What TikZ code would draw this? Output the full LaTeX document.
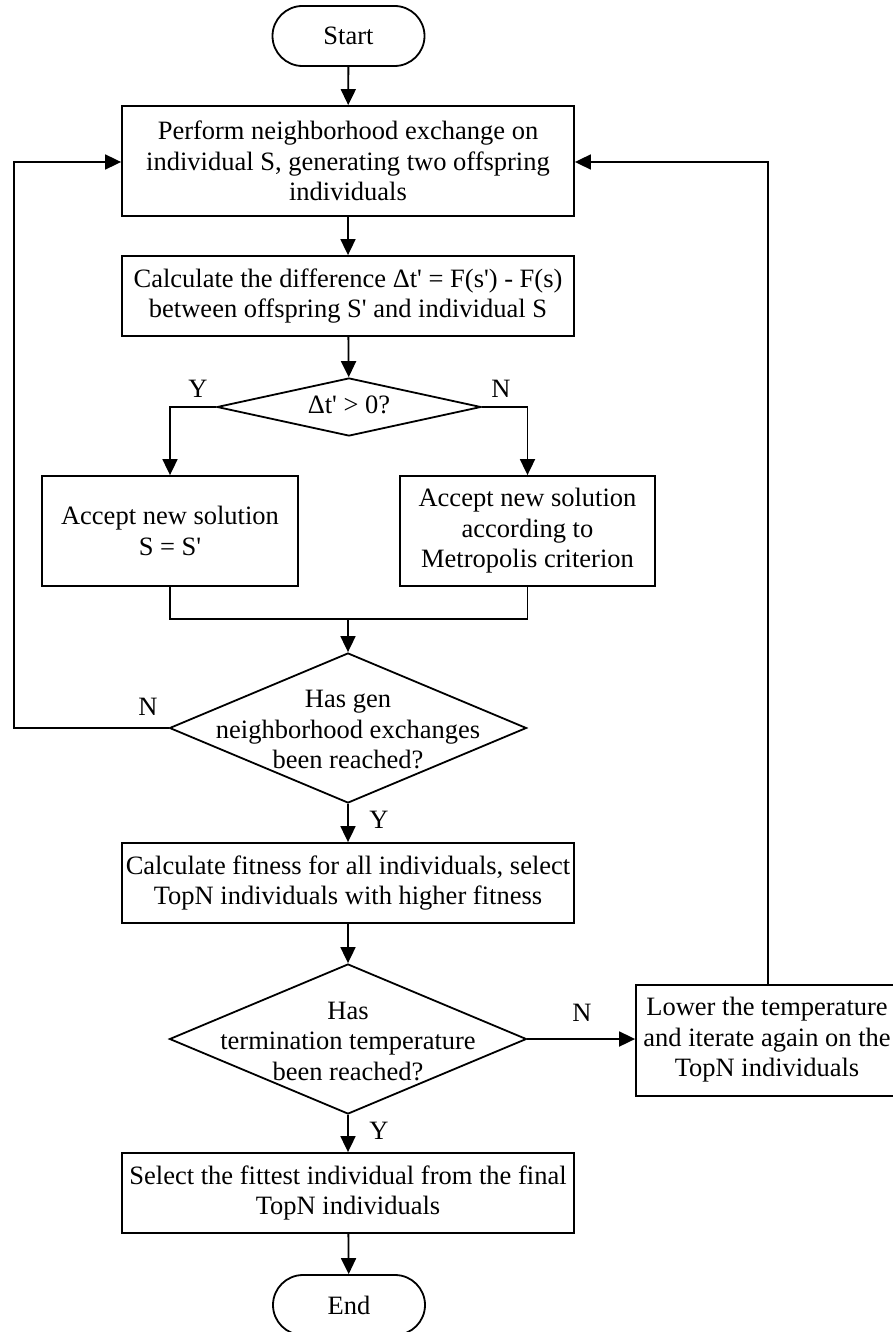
\documentclass[tikz,border=0pt]{standalone}
\usepackage{fontspec}
\setmainfont{Liberation Serif}
\usetikzlibrary{shapes.geometric,arrows.meta}
\newcommand\sq{\textquotesingle}
\begin{document}
\begin{tikzpicture}[x=1pt,y=1pt,
  every node/.style={font=\fontsize{26.5}{30.5}\selectfont},
  procbox/.style={draw,line width=1.8pt,rectangle,align=center,inner sep=2pt},
  termbox/.style={draw,line width=1.8pt,rectangle,rounded corners=30pt,minimum width=152pt,minimum height=60pt},
  decbox/.style={draw,line width=1.8pt,diamond,inner sep=0pt},
  lbl/.style={inner sep=0pt},
  conn/.style={line width=1.8pt,-{Triangle[length=16pt,width=15pt]}},
  plain/.style={line width=1.8pt}]
\clip (0,0) rectangle (893,-1332);
\fill[white] (0,0) rectangle (893,-1332);

\node[termbox] (start) at (348.5,-36) {Start};
\node[procbox,minimum width=452pt,minimum height=110pt] (b1) at (348,-161) {Perform neighborhood exchange on\\individual S, generating two offspring\\individuals};
\node[procbox,minimum width=452pt,minimum height=80pt] (b2) at (348,-296) {Calculate the difference Δt\sq{} = F(s\sq) - F(s)\\between offspring S\sq{} and individual S};
\node[decbox,minimum width=264pt,minimum height=58pt] (d1) at (349,-407) {};
\node[lbl] (d1t) at (d1) {\strut Δt\sq{} > 0?};
\node[procbox,minimum width=256pt,minimum height=110pt] (L) at (170,-531) {Accept new solution\\S = S\sq};
\node[procbox,minimum width=255pt,minimum height=110pt] (R) at (527.5,-531) {Accept new solution\\according to\\Metropolis criterion};
\coordinate (mL) at (170,-619);
\coordinate (mR) at (527.5,-619);
\coordinate (mC) at (348,-619);
\node[decbox,minimum width=357pt,minimum height=150pt] (d2) at (348,-728) {};
\node[lbl,align=center] (d2t) at (348,-730) {Has gen\\neighborhood exchanges\\been reached?};
\coordinate (lp1) at (14,-728);
\coordinate (lp2) at (14,-162);
\node[procbox,minimum width=452pt,minimum height=80pt] (b3) at (348,-883) {Calculate fitness for all individuals, select\\TopN individuals with higher fitness};
\node[decbox,minimum width=357pt,minimum height=150pt] (d3) at (348,-1039) {};
\node[lbl,align=center] (d3t) at (348,-1041) {Has\\termination temperature\\been reached?};
\node[procbox,minimum width=270pt,minimum height=111pt] (R2) at (771,-1040.5) {};
\node[lbl,align=center] (R2t) at (767,-1040) {Lower the temperature\\and iterate again on the\\TopN individuals};
\coordinate (rp1) at (768,-985);
\coordinate (rp2) at (768,-162);
\node[procbox,minimum width=452pt,minimum height=80pt] (b4) at (348,-1193) {Select the fittest individual from the final\\TopN individuals};
\node[termbox] (end) at (349,-1305) {End};

\node[lbl] (y1) at (198,-389) {Y};
\node[lbl] (n1) at (501,-389) {N};
\node[lbl] (n2) at (148,-707) {N};
\node[lbl] (y2) at (379,-820) {Y};
\node[lbl] (n3) at (582,-1013) {N};
\node[lbl] (y3) at (379,-1131) {Y};

\draw[conn] (start) -- (b1);
\draw[conn] (b1) -- (b2);
\draw[conn] (b2) -- (d1);
\draw[conn] (d1.west) -| (L.north);
\draw[conn] (d1.east) -| (R.north);
\draw[plain] (L.south) -- (mL) -- (mR) -- (R.south);
\draw[conn] (mC) -- (d2.north);
\draw[conn] (d2.west) -- (lp1) -- (lp2) -- (b1.west |- lp2);
\draw[conn] (d2.south) -- (b3.north);
\draw[conn] (b3) -- (d3.north);
\draw[conn] (d3.east) -- (R2.west |- d3.east);
\draw[conn] (rp1) -- (rp2) -- (b1.east |- rp2);
\draw[conn] (d3.south) -- (b4.north);
\draw[conn] (b4) -- (end);
\end{tikzpicture}
\end{document}
